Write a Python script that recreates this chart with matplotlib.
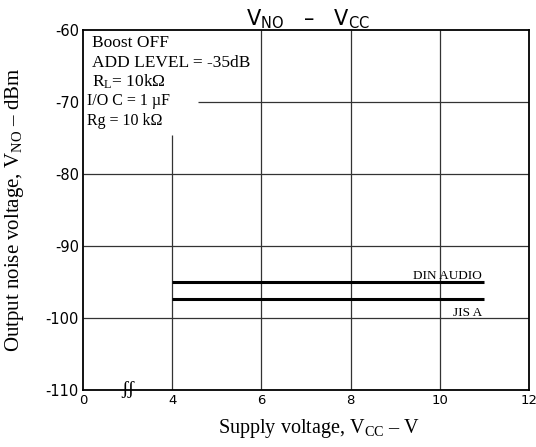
import numpy as np
import matplotlib.pyplot as plt

plt.rcParams['mathtext.fontset'] = 'custom'
plt.rcParams['mathtext.rm'] = 'Liberation Serif'
plt.rcParams['mathtext.it'] = 'Liberation Serif:italic'
plt.rcParams['mathtext.sf'] = 'DejaVu Sans'

# data (supply voltage in V, noise in dBm)
vcc_din = [4, 11]
vno_din = [-95.0, -95.0]
vcc_jis = [4, 11]
vno_jis = [-97.4, -97.4]

x_ticks = [0, 4, 6, 8, 10, 12]
y_ticks = [-60, -70, -80, -90, -100, -110]

notes = ['Boost OFF', 'ADD LEVEL = -35dB', r'R$_{\rm L}$= 10k' + '\u03a9',
         'I/O C = 1 \u00b5F', 'Rg = 10 k\u03a9']

# broken axis: 0 V is drawn where 2 V would be
def xpos(v):
    v = np.asarray(v, dtype=float)
    return np.where(v == 0, 2.0, v)

serif = ['Liberation Serif', 'DejaVu Serif']
sans = ['DejaVu Sans']

fig = plt.figure(figsize=(5.36, 4.47), dpi=100)
ax = fig.add_axes([0.155, 0.128, 0.832, 0.805])

ax.set_xlim(2, 12)
ax.set_ylim(-110, -60)

# grid, drawn by hand because some lines are cut short
for v in [6, 8, 10]:
    ax.vlines(v, -110, -60, color='#333333', lw=0.9)
ax.vlines(4, -110, -74.6, color='#333333', lw=0.9)
for d in [-80, -90, -100]:
    ax.hlines(d, 2, 12, color='#333333', lw=0.9)
ax.hlines(-70, 4.58, 12, color='#333333', lw=0.9)

ax.plot(xpos(vcc_din), vno_din, color='black', lw=2.2, solid_capstyle='butt')
ax.plot(xpos(vcc_jis), vno_jis, color='black', lw=2.2, solid_capstyle='butt')

ax.text(10.95, -94.6, 'DIN AUDIO', family=serif, fontsize=9.5, ha='right', va='baseline')
ax.text(10.95, -99.7, 'JIS A', family=serif, fontsize=9.5, ha='right', va='baseline')

# condition notes
note_y = [-62.36, -65.14, -67.9, -70.42, -73.19]
note_fs = [12.5, 12.5, 12.5, 11.5, 11.5]
note_x = [2.21, 2.21, 2.21, 2.08, 2.08]
for txt, y, fs, x in zip(notes, note_y, note_fs, note_x):
    ax.text(x, y, txt, family=serif, fontsize=fs, va='baseline')

# axis break mark
ax.text(3.01, -110, '\u0283\u0283', family=serif, fontsize=14, ha='center', va='center')

ax.set_xticks(xpos(x_ticks))
ax.set_xticklabels([str(v) for v in x_ticks], family=sans, fontsize=9.5)
ax.set_yticks(y_ticks)
ax.set_yticklabels([str(v) for v in y_ticks], family=sans, fontsize=10.5)
ax.tick_params(length=0, pad=3)

for s in ax.spines.values():
    s.set_linewidth(1.3)

ax.set_xlabel(r'Supply voltage, V$_{\rm CC}$ – V', family=serif, fontsize=14.5)
ax.set_ylabel(r'Output noise voltage, V$_{\rm NO}$ – dBm', family=serif, fontsize=15)
ax.xaxis.set_label_coords(0.529, -0.075)
ax.yaxis.set_label_coords(-0.128, 0.5)

fig.text(0.575, 0.957, r'$\mathsf{V_{NO}}$   –   $\mathsf{V_{CC}}$', family=sans, fontsize=15,
         ha='center', va='center')

fig.savefig('out.png', dpi=100)
